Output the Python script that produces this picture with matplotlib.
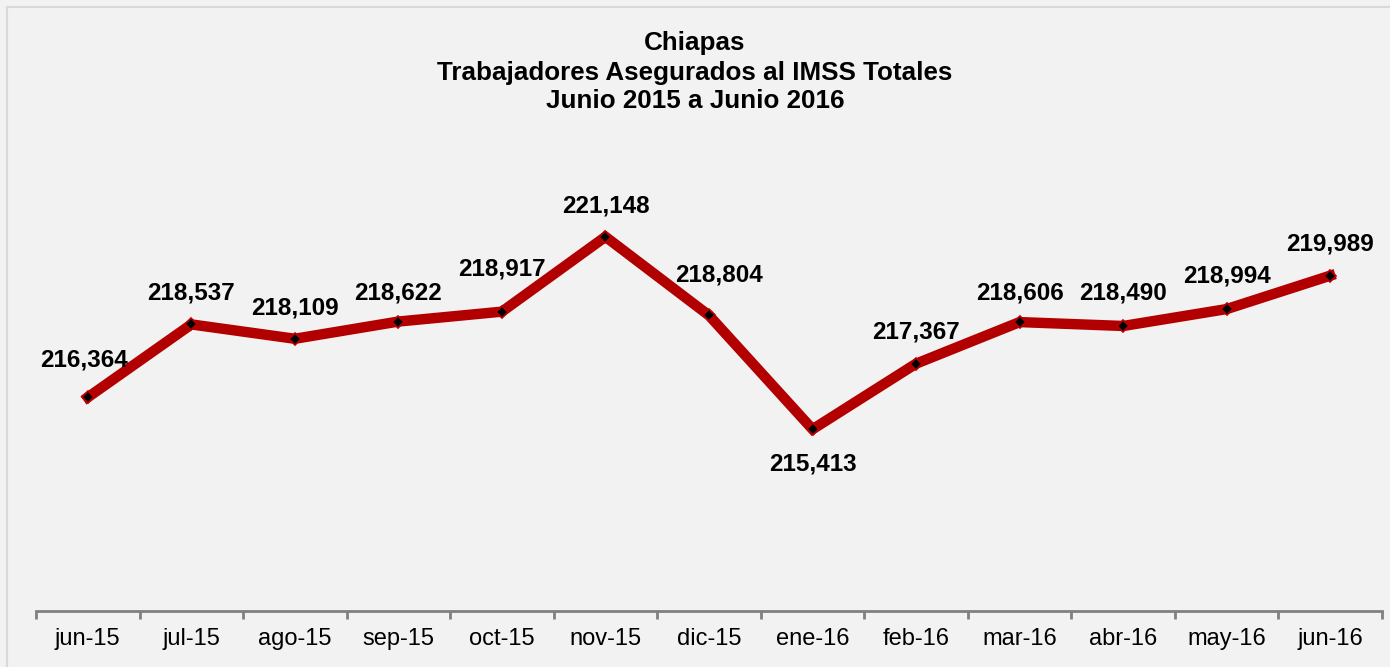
#!/usr/bin/env python3

import matplotlib.pyplot as plt
from matplotlib.patches import Rectangle

months = ['jun-15', 'jul-15', 'ago-15', 'sep-15', 'oct-15', 'nov-15', 'dic-15',
          'ene-16', 'feb-16', 'mar-16', 'abr-16', 'may-16', 'jun-16']
workers = [216364, 218537, 218109, 218622, 218917, 221148, 218804,
           215413, 217367, 218606, 218490, 218994, 219989]
# label offsets in pixels (dx, dy), below only for the January low
label_offsets = [(-4, 37), (0, 31), (0, 31), (0, 29), (0, 43), (0, 31), (10, 40),
                 (0, -35), (0, 32), (0, 29), (0, 33), (0, 33), (0, 32)]
title_lines = ['Chiapas', 'Trabajadores Asegurados al IMSS Totales', 'Junio 2015 a Junio 2016']


def main():
    plt.rcParams['font.family'] = ['Liberation Sans', 'DejaVu Sans']
    bg = '#f2f2f2'
    fig = plt.figure(figsize=(13.9, 6.67), dpi=100, facecolor=bg)
    fig.patches.append(Rectangle((7 / 1390, -0.1), 1.2, 1.1 - 7 / 667,
                                 transform=fig.transFigure, fill=False,
                                 edgecolor='#d9d9d9', linewidth=1.5))

    ax = fig.add_axes([36 / 1390, 1 - 611 / 667, (1382 - 36) / 1390, (611 - 141) / 667])
    ax.set_facecolor(bg)
    x = list(range(len(months)))
    ax.plot(x, workers, color='#b20000', linewidth=7.5, solid_joinstyle='miter',
            marker='D', markersize=6, markerfacecolor='black',
            markeredgecolor='#c00000', markeredgewidth=1.2, zorder=3)

    for xi, v, (dx, dy) in zip(x, workers, label_offsets):
        ax.annotate('{:,}'.format(v), (xi, v), xytext=(dx * 0.72, dy * 0.72),
                    textcoords='offset points', ha='center', va='center',
                    fontsize=17.5, fontweight='bold')

    ax.set_xlim(-0.5, len(months) - 0.5)
    ax.set_ylim(210000, 224000)
    ax.set_yticks([])
    ax.set_xticks(x)
    ax.set_xticklabels(months, fontsize=17)
    ax.set_xticks([i - 0.5 for i in range(len(months) + 1)], minor=True)
    ax.tick_params(axis='x', which='major', length=0, pad=12)
    ax.tick_params(axis='x', which='minor', length=6, width=2, color='#808080')
    for side in ['top', 'right', 'left']:
        ax.spines[side].set_visible(False)
    ax.spines['bottom'].set_color('#808080')
    ax.spines['bottom'].set_linewidth(2)

    for line, ypx in zip(title_lines, [43, 73, 101]):
        fig.text(0.5, 1 - ypx / 667, line, ha='center', va='center',
                 fontsize=18.7, fontweight='bold')

    fig.savefig('out.png', dpi=100, facecolor=bg)


if __name__ == '__main__':
    main()
